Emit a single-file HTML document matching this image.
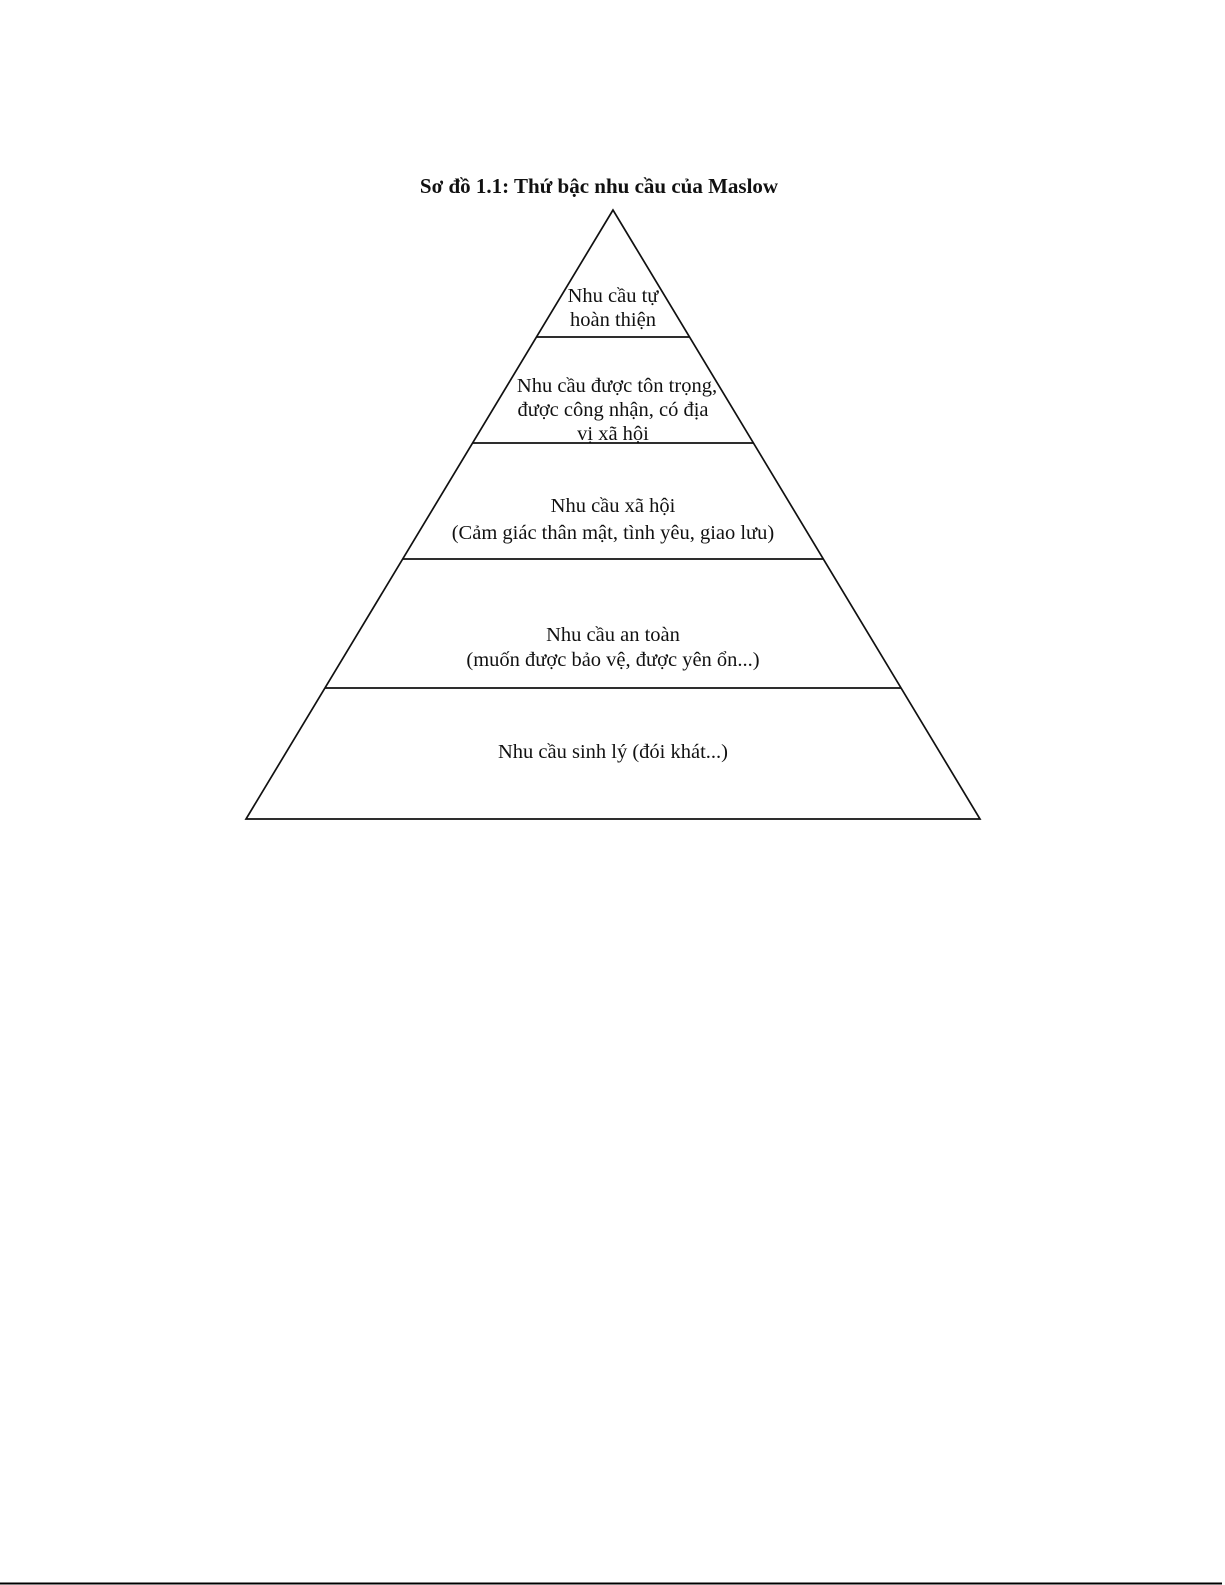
<!DOCTYPE html>
<html><head><meta charset="utf-8"><style>
body{margin:0;background:#fff;}
svg{display:block;}
text{font-family:"Liberation Serif",serif;fill:#111;}
</style></head><body>
<svg width="1225" height="1585" viewBox="0 0 1225 1585">
<text x="599" y="193" font-size="21" font-weight="bold" text-anchor="middle">Sơ đồ 1.1: Thứ bậc nhu cầu của Maslow</text>
<g stroke="#111" stroke-width="1.7" fill="none">
<polygon points="613,210 246,819 980,819"/>
<line x1="536.5" y1="337" x2="689.5" y2="337"/>
<line x1="472.6" y1="443" x2="753.4" y2="443"/>
<line x1="402.7" y1="559" x2="823.3" y2="559"/>
<line x1="325" y1="688" x2="901" y2="688"/>
</g>
<g font-size="20.5" text-anchor="middle">
<text x="613" y="302">Nhu cầu tự</text>
<text x="613" y="326">hoàn thiện</text>
<text x="617" y="392">Nhu cầu được tôn trọng,</text>
<text x="613" y="416">được công nhận, có địa</text>
<text x="613" y="440">vị xã hội</text>
<text x="613" y="512">Nhu cầu xã hội</text>
<text x="613" y="539">(Cảm giác thân mật, tình yêu, giao lưu)</text>
<text x="613" y="641">Nhu cầu an toàn</text>
<text x="613" y="666">(muốn được bảo vệ, được yên ổn...)</text>
<text x="613" y="758">Nhu cầu sinh lý (đói khát...)</text>
</g>
<line x1="0" y1="1583.5" x2="1222" y2="1583.5" stroke="#000" stroke-width="2"/>
</svg>
</body></html>
